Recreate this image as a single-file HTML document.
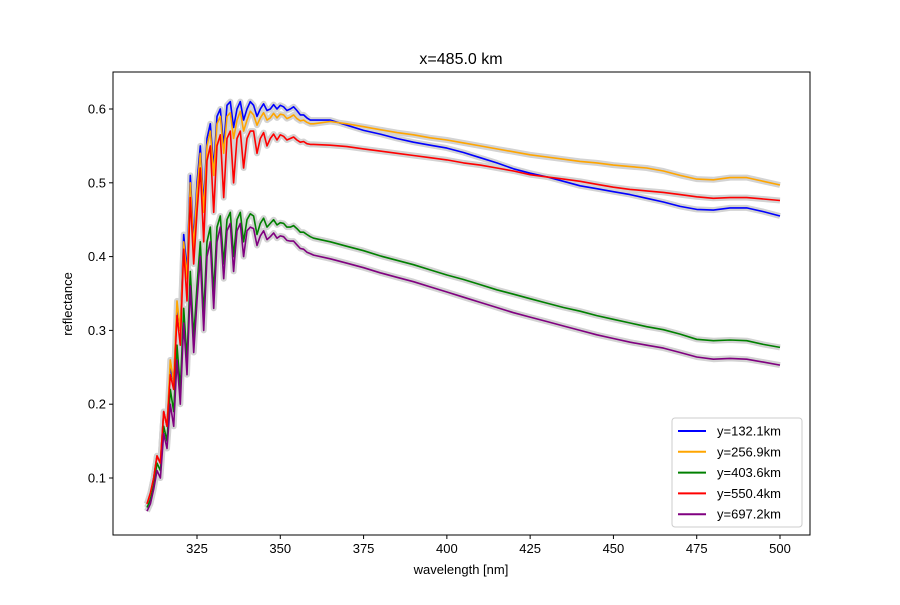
<!DOCTYPE html>
<html><head><meta charset="utf-8"><style>
body{margin:0;background:#fff;font-family:"Liberation Sans","DejaVu Sans",sans-serif}
svg text{font-family:"Liberation Sans","DejaVu Sans",sans-serif;font-size:13px;fill:#000}
</style></head><body>
<svg id="c" width="900" height="600"></svg>
<script>
const wl=[310,311,312,313,314,315,316,317,318,319,320,321,322,323,324,325,326,327,328,329,330,331,332,333,334,335,336,337,338,339,340,341,342,343,344,345,346,347,348,349,350,351,352,353,354,355,356,357,358,359,360,365,370,375,380,385,390,395,400,405,410,415,420,425,430,435,440,445,450,455,460,465,470,475,480,485,490,495,500];
const blue=[0.065,0.075,0.10,0.13,0.12,0.19,0.17,0.25,0.23,0.33,0.30,0.43,0.38,0.51,0.42,0.50,0.55,0.47,0.56,0.58,0.52,0.59,0.60,0.55,0.605,0.61,0.575,0.60,0.61,0.585,0.60,0.61,0.605,0.59,0.60,0.607,0.598,0.60,0.606,0.60,0.605,0.603,0.598,0.60,0.603,0.598,0.592,0.592,0.588,0.585,0.585,
0.585,0.578,0.571,0.566,0.560,0.555,0.551,0.547,0.541,0.534,0.527,0.519,0.513,0.508,0.502,0.496,0.492,0.488,0.484,0.479,0.474,0.468,0.464,0.463,0.466,0.466,0.461,0.455];
const orange=[0.065,0.078,0.10,0.13,0.12,0.19,0.17,0.26,0.23,0.34,0.30,0.42,0.37,0.50,0.41,0.49,0.54,0.46,0.55,0.57,0.51,0.58,0.59,0.54,0.59,0.595,0.56,0.585,0.597,0.57,0.585,0.597,0.592,0.578,0.588,0.595,0.585,0.588,0.594,0.588,0.593,0.592,0.587,0.589,0.592,0.587,0.584,0.585,0.582,0.58,0.58,
0.583,0.580,0.576,0.572,0.568,0.565,0.561,0.558,0.554,0.550,0.546,0.542,0.538,0.535,0.532,0.529,0.527,0.524,0.522,0.520,0.516,0.510,0.505,0.504,0.507,0.507,0.502,0.497];
const green=[0.06,0.07,0.09,0.12,0.11,0.17,0.15,0.22,0.19,0.28,0.22,0.33,0.26,0.38,0.29,0.36,0.42,0.32,0.42,0.44,0.35,0.44,0.455,0.39,0.45,0.46,0.40,0.45,0.46,0.42,0.45,0.458,0.455,0.43,0.445,0.452,0.44,0.445,0.45,0.443,0.446,0.445,0.44,0.44,0.442,0.438,0.433,0.433,0.43,0.427,0.425,
0.420,0.414,0.408,0.401,0.395,0.389,0.382,0.375,0.369,0.362,0.355,0.349,0.343,0.337,0.331,0.326,0.320,0.315,0.310,0.305,0.301,0.295,0.288,0.286,0.287,0.286,0.281,0.277];
const red=[0.065,0.08,0.10,0.13,0.12,0.19,0.17,0.24,0.22,0.32,0.28,0.41,0.34,0.48,0.39,0.46,0.52,0.42,0.53,0.55,0.46,0.55,0.565,0.48,0.56,0.57,0.50,0.56,0.57,0.52,0.56,0.57,0.57,0.54,0.56,0.568,0.55,0.56,0.566,0.558,0.565,0.563,0.558,0.56,0.562,0.558,0.555,0.556,0.553,0.552,0.552,
0.551,0.549,0.546,0.543,0.540,0.537,0.534,0.531,0.527,0.524,0.520,0.516,0.511,0.508,0.505,0.502,0.498,0.494,0.491,0.489,0.487,0.484,0.481,0.479,0.480,0.480,0.478,0.476];
const purple=[0.055,0.065,0.085,0.11,0.10,0.16,0.14,0.20,0.17,0.26,0.20,0.31,0.24,0.36,0.27,0.34,0.40,0.30,0.40,0.42,0.33,0.42,0.44,0.37,0.435,0.445,0.38,0.435,0.445,0.40,0.435,0.44,0.438,0.415,0.428,0.435,0.423,0.427,0.432,0.425,0.428,0.427,0.422,0.421,0.421,0.416,0.411,0.41,0.406,0.404,0.402,
0.397,0.391,0.385,0.378,0.372,0.366,0.359,0.352,0.345,0.338,0.331,0.324,0.318,0.312,0.306,0.300,0.294,0.289,0.284,0.280,0.276,0.270,0.264,0.261,0.262,0.261,0.257,0.253];
const seriesLabels=["y=132.1km","y=256.9km","y=403.6km","y=550.4km","y=697.2km"];
const xTicks=[325,350,375,400,425,450,475,500];
const yTicks=[0.1,0.2,0.3,0.4,0.5,0.6];

const NS="http://www.w3.org/2000/svg";
const svg=document.getElementById('c');
const L=113,R=810,T=72,B=535;
const X=v=>197+(v-325)*(583/175);
const Y=v=>109+(0.6-v)*738;
function mk(t,a,p){const e=document.createElementNS(NS,t);for(const k in a)e.setAttribute(k,a[k]);(p||svg).appendChild(e);return e;}
function tx(x,y,s,anchor,name){const e=mk('text',{x:x,y:y,'text-anchor':anchor});e.textContent=s;

return e;}

const cols=['#0000ff','#ffa500','#008000','#ff0000','#800080'];
const data=[blue,orange,green,red,purple];
const plot=mk('g',{});


data.forEach((s,i)=>{
  let d='';const n=Math.min(s.length,wl.length);
  for(let j=0;j<n;j++)d+=(j?'L':'M')+X(wl[j]).toFixed(1)+','+Y(s[j]).toFixed(1);
  const band=mk('path',{d:d,fill:'none',stroke:'#d3d3d3','stroke-width':6,'stroke-linejoin':'round'},plot);
  
  
});
data.forEach((s,i)=>{
  let d='';const n=Math.min(s.length,wl.length);
  for(let j=0;j<n;j++)d+=(j?'L':'M')+X(wl[j]).toFixed(1)+','+Y(s[j]).toFixed(1);
  const ln=mk('path',{d:d,fill:'none',stroke:cols[i],'stroke-width':1.6,'stroke-linejoin':'round'},plot);
  
  
});
const frame=mk('rect',{x:L,y:T,width:R-L,height:B-T,fill:'none',stroke:'#000','stroke-width':1});


xTicks.forEach(v=>{const t=mk('line',{x1:X(v),x2:X(v),y1:B,y2:B+4,stroke:'#000'});


tx(X(v),B+18,String(v),'middle','x-tick-label');});
yTicks.forEach(v=>{const t=mk('line',{x1:L-4,x2:L,y1:Y(v),y2:Y(v),stroke:'#000'});


tx(L-7,Y(v)+4.5,v.toFixed(1),'end','y-tick-label');});
tx(461,64,'x=485.0 km','middle','chart-title').setAttribute('style','font-size:16px');
tx(461,574,'wavelength [nm]','middle','x-axis-title');
const yl=tx(0,0,'reflectance','middle','y-axis-title');yl.setAttribute('transform','translate(72,304) rotate(-90)');
const lg=mk('g',{});


mk('rect',{x:672,y:418,width:130,height:109,rx:3,fill:'#fff','fill-opacity':0.8,stroke:'#ccc'},lg);
seriesLabels.forEach((s,i)=>{const y=431+i*20.8;
 const g=mk('g',{},lg);
 
 
 mk('line',{x1:678,x2:706,y1:y,y2:y,stroke:cols[i],'stroke-width':2},g);
 const t=mk('text',{x:717,y:y+4.5},g);t.textContent=s;});
</script>
</body></html>
